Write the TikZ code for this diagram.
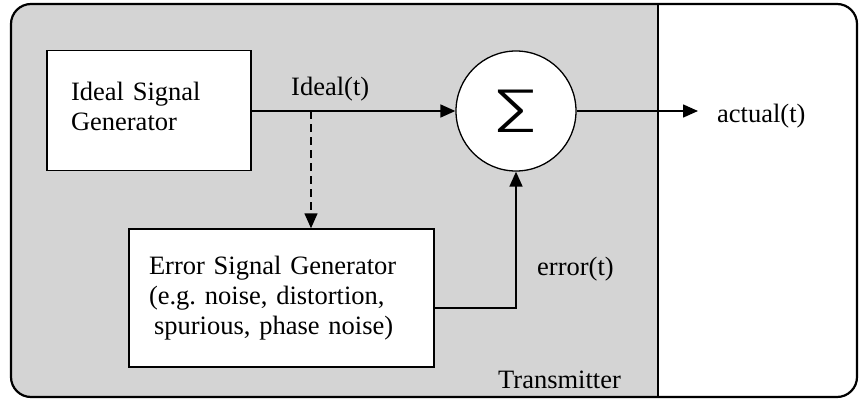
\documentclass[tikz,border=0pt]{standalone}
\usepackage{graphicx}
\usepackage{fontspec}
\setmainfont{Liberation Serif}
\newfontfamily\sigfont{Fira Sans Light}
\usetikzlibrary{arrows.meta,calc}
\definecolor{panelgray}{RGB}{212,212,212}
\frenchspacing
\begin{document}
\begin{tikzpicture}[x=1pt,y=-1pt,
  txt/.style={font=\fontsize{26.5}{30}\selectfont, inner sep=0pt},
  blockbox/.style={draw, line width=1.5pt, fill=white, rectangle, align=left,
    font=\fontsize{26.5}{30}\selectfont, inner ysep=0pt},
  conn/.style={line width=1.6pt, -{Triangle[length=15pt,width=13pt]}},
]
\useasboundingbox (0,0) rectangle (860,402);
\fill[white, rounded corners=20pt] (11,4) rectangle (857,397);
\begin{scope}
  \clip[rounded corners=20pt] (11,4) rectangle (857,397);
  \fill[panelgray] (0,0) rectangle (658,402);
\end{scope}
\draw[line width=1.5pt] (658,4) -- (658,397);
\draw[line width=2.2pt, rounded corners=20pt] (11,4) rectangle (857,397);

\node[blockbox, minimum height=120pt, text width=156pt, inner xsep=24pt, text height=18pt, text depth=39pt] (ideal) at (149,110.5) {Ideal Signal\\Generator};
\node[blockbox, minimum height=138pt, text width=265pt, inner xsep=20pt] (err) at (281.5,298) {Error Signal Generator\\(e.g. noise, distortion,\\\hspace*{5pt}spurious, phase noise)};
\node[circle, draw, fill=white, line width=1.3pt, minimum size=120pt, inner sep=0pt] (sum) at (516,111) {\sigfont\fontsize{62}{62}\selectfont\scalebox{1.4}[1]{Σ}};

\node[txt, anchor=base west] (lideal) at (291,95) {Ideal(t)};
\node[txt, anchor=base west] (lact) at (717,122) {actual(t)};
\node[txt, anchor=base west] (lerr) at (537,275) {error(t)};
\node[txt, anchor=base west] (ltx) at (498,388) {Transmitter};

\coordinate (tap) at (311,111);
\coordinate (out) at (698,111);
\draw[conn] (ideal.east |- sum.west) -- (sum.west);
\draw[conn, dash pattern=on 8pt off 5pt] (tap) -- (tap |- err.north);
\draw[conn] ($(err.east)+(0,10)$) -| (sum.south);
\draw[conn] (sum.east) -- (out);
\end{tikzpicture}
\end{document}
